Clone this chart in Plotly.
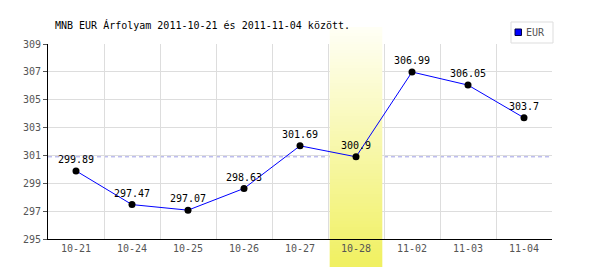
import plotly.graph_objects as go

# Data
dates = ["10-21", "10-24", "10-25", "10-26", "10-27", "10-28", "11-02", "11-03", "11-04"]
eur = [299.89, 297.47, 297.07, 298.63, 301.69, 300.9, 306.99, 306.05, 303.7]
labels = ["299.89", "297.47", "297.07", "298.63", "301.69", "300.9", "306.99", "306.05", "303.7"]
highlight_idx = 5
title_text = "MNB EUR Árfolyam 2011-10-21 és 2011-11-04 között."
series_name = "EUR"

FONT = "DejaVu Sans Mono"
W, H = 600, 270
ML, MR, MT, MB = 48, 48, 44, 31
plot_w = W - ML - MR
plot_h = H - MT - MB
YMIN, YMAX = 295, 309


def px_x(p):
    return (p - ML) / plot_w


def px_y(p):
    return (H - MB - p) / plot_h


xs = list(range(len(dates)))

fig = go.Figure()
fig.add_trace(go.Scatter(
    x=xs, y=eur, mode="lines+markers+text",
    line=dict(color="#0000ff", width=1),
    marker=dict(color="#000000", size=7),
    text=labels, textposition="top center",
    textfont=dict(family=FONT, size=10, color="#000000"),
    showlegend=False, cliponaxis=False, hoverinfo="skip",
))

shapes = []
# dashed reference line at highlighted value
shapes.append(dict(type="line", xref="paper", yref="y", x0=0, x1=1,
                   y0=eur[highlight_idx], y1=eur[highlight_idx],
                   line=dict(color="#9f9fe6", width=1, dash="4px,3px"), layer="between"))

# gradient highlight band (pixel-based strips)
top_px, bot_px = 27, 267
hx0, hx1 = highlight_idx - 0.47, highlight_idx + 0.47
c_top = (255, 255, 246)
c_bot = (240, 240, 96)
step = 3
y = top_px
while y < bot_px:
    y2 = min(y + step, bot_px)
    for edge in (MT, H - MB):
        if y < edge < y2:
            y2 = edge
    t = ((y + y2) / 2 - top_px) / (bot_px - top_px)
    col = "rgb(%d,%d,%d)" % tuple(round(a + (b - a) * t) for a, b in zip(c_top, c_bot))
    p0 = px_y(y2)
    p1 = px_y(y)
    if p0 >= -1e-9 and p1 <= 1 + 1e-9:
        d0 = YMIN + p0 * (YMAX - YMIN)
        d1 = YMIN + p1 * (YMAX - YMIN)
        shapes.append(dict(type="rect", xref="x", yref="y", x0=hx0, x1=hx1, y0=d0, y1=d1,
                           fillcolor=col, line=dict(width=0), layer="between"))
    else:
        shapes.append(dict(type="rect", xref="x", yref="paper", x0=hx0, x1=hx1, y0=p0, y1=p1,
                           fillcolor=col, line=dict(width=0), layer="below"))
    y = y2

# legend box (manual, compact)
shapes.append(dict(type="rect", xref="paper", yref="paper",
                   x0=px_x(511), x1=px_x(553), y0=px_y(43), y1=px_y(22),
                   fillcolor="white", line=dict(color="#dddddd", width=1), layer="above"))
shapes.append(dict(type="rect", xref="paper", yref="paper",
                   x0=px_x(515), x1=px_x(521.5), y0=px_y(35.5), y1=px_y(29),
                   fillcolor="#0000ff", line=dict(color="#000044", width=1), layer="above"))

fig.update_layout(
    width=W, height=H,
    margin=dict(l=ML, r=MR, t=MT, b=MB, pad=0),
    paper_bgcolor="white", plot_bgcolor="white",
    font=dict(family=FONT, size=10, color="#555555"),
    shapes=shapes,
    showlegend=False,
    annotations=[
        dict(text=title_text, xref="paper", yref="paper",
             x=px_x(53), y=px_y(25), xanchor="left", yanchor="middle", showarrow=False,
             font=dict(family=FONT, size=10, color="#000000")),
        dict(text=series_name, xref="paper", yref="paper",
             x=px_x(524), y=px_y(32.5), xanchor="left", yanchor="middle", showarrow=False,
             font=dict(family=FONT, size=10, color="#555555")),
    ],
    xaxis=dict(range=[-0.5, len(dates) - 0.5], tickvals=xs, ticktext=dates,
               showgrid=False, zeroline=False, showline=True, linecolor="#000000", linewidth=1,
               ticks="", tickfont=dict(color="#555555"),
               minor=dict(tickvals=[i + 0.5 for i in xs], showgrid=True,
                          gridcolor="#dddddd", gridwidth=1, ticks="")),
    yaxis=dict(range=[YMIN, YMAX], dtick=2, tick0=295, showgrid=True, gridcolor="#dddddd",
               zeroline=False, showline=True, linecolor="#000000", linewidth=1,
               ticks="outside", ticklen=4, tickcolor="#555555", tickfont=dict(color="#555555")),
)

fig.write_html("out.html")
